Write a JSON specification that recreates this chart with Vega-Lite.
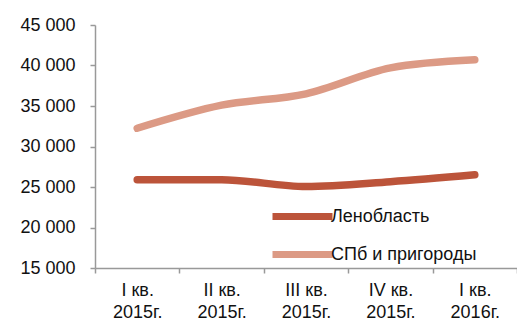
{
  "$schema": "https://vega.github.io/schema/vega-lite/v6.json",
  "width": 422,
  "height": 243,
  "autosize": {"type": "none"},
  "padding": {"left": 95, "top": 25, "right": 0, "bottom": 61},
  "background": "white",
  "config": {
    "view": {"stroke": null},
    "font": "Liberation Sans"
  },
  "data": {
    "values": [
      {"q": "I кв.|2015г.", "series": "Ленобласть", "v": 25900},
      {"q": "II кв.|2015г.", "series": "Ленобласть", "v": 25900},
      {"q": "III кв.|2015г.", "series": "Ленобласть", "v": 25050},
      {"q": "IV кв.|2015г.", "series": "Ленобласть", "v": 25650},
      {"q": "I кв.|2016г.", "series": "Ленобласть", "v": 26500},
      {"q": "I кв.|2015г.", "series": "СПб и пригороды", "v": 32250},
      {"q": "II кв.|2015г.", "series": "СПб и пригороды", "v": 35100},
      {"q": "III кв.|2015г.", "series": "СПб и пригороды", "v": 36500},
      {"q": "IV кв.|2015г.", "series": "СПб и пригороды", "v": 39700},
      {"q": "I кв.|2016г.", "series": "СПб и пригороды", "v": 40700}
    ]
  },
  "mark": {"type": "line", "strokeWidth": 7.5, "strokeCap": "round", "strokeJoin": "round", "interpolate": "monotone"},
  "encoding": {
    "x": {
      "field": "q", "type": "nominal", "sort": null,
      "scale": {"paddingInner": 0, "paddingOuter": 0},
      "axis": {
        "title": null, "labelAngle": 0,
        "labelExpr": "split(datum.label, '|')",
        "labelFontSize": 18, "labelColor": "#111", "labelLineHeight": 22,
        "labelPadding": 8,
        "tickBand": "extent",
        "tickColor": "#999", "tickSize": 5, "domainColor": "#999", "domainWidth": 1.5, "tickWidth": 1.5,
        "grid": false
      }
    },
    "y": {
      "field": "v", "type": "quantitative",
      "scale": {"domain": [15000, 45000], "nice": false, "zero": false},
      "axis": {
        "title": null, "values": [15000, 20000, 25000, 30000, 35000, 40000, 45000],
        "labelExpr": "replace(format(datum.value, ','), ',', ' ')",
        "labelFontSize": 18, "labelColor": "#111", "labelPadding": 15,
        "tickColor": "#999", "tickSize": 5, "domainColor": "#999", "domainWidth": 1.5, "tickWidth": 1.5,
        "grid": false
      }
    },
    "color": {
      "field": "series", "type": "nominal",
      "scale": {"domain": ["Ленобласть", "СПб и пригороды"], "range": ["#bc543a", "#dc9a85"]},
      "legend": {
        "title": null, "orient": "none", "legendX": 194, "legendY": 178, "padding": 0,
        "symbolType": "M-3,0H3", "symbolSize": 400, "symbolStrokeWidth": 7,
        "labelFontSize": 18, "labelColor": "#111", "labelOffset": 15,
        "rowPadding": 9
      }
    }
  }
}
